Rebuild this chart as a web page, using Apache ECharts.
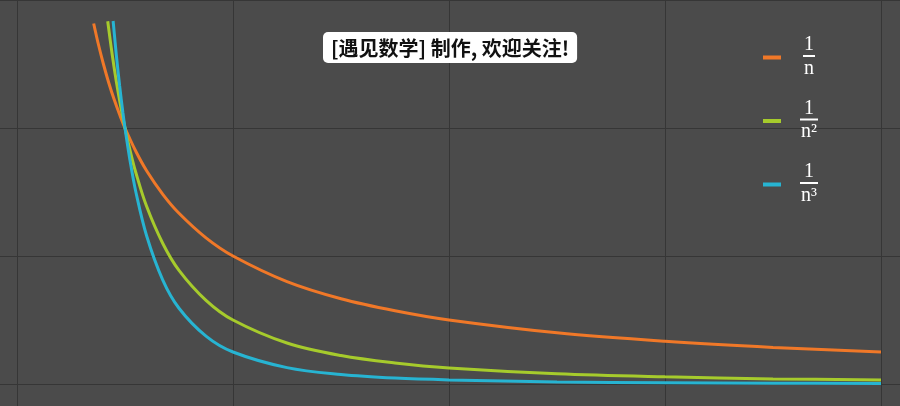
<!DOCTYPE html>
<html>
<head>
<meta charset="utf-8">
<script src="https://cdn.jsdelivr.net/npm/echarts@6/dist/echarts.min.js"></script>
<style>
  html, body { margin: 0; padding: 0; background: #4b4b4b; }
  #main { width: 900px; height: 406px; }
</style>
</head>
<body>
<div id="main"></div>
<script>
// values
var n1 = [0.71, 0.75, 0.8, 0.85, 0.9, 0.95, 1, 1.1, 1.2, 1.35, 1.5, 1.75, 2, 2.5, 3, 3.5, 4, 5, 6, 7, 8];
var inv1 = [1.408, 1.333, 1.25, 1.176, 1.111, 1.053, 1, 0.909, 0.833, 0.741, 0.667, 0.571, 0.5, 0.4, 0.333, 0.286, 0.25, 0.2, 0.167, 0.143, 0.125];

var n2 = [0.84, 0.88, 0.92, 0.96, 1, 1.05, 1.1, 1.2, 1.35, 1.5, 1.75, 2, 2.5, 3, 3.5, 4, 5, 6, 7, 8];
var inv2 = [1.417, 1.291, 1.181, 1.085, 1, 0.907, 0.826, 0.694, 0.549, 0.444, 0.327, 0.25, 0.16, 0.111, 0.082, 0.0625, 0.04, 0.028, 0.02, 0.016];

var n3 = [0.89, 0.92, 0.95, 0.98, 1, 1.05, 1.1, 1.2, 1.35, 1.5, 1.75, 2, 2.5, 3, 3.5, 4, 5, 6, 7, 8];
var inv3 = [1.418, 1.284, 1.166, 1.062, 1, 0.864, 0.751, 0.579, 0.406, 0.296, 0.187, 0.125, 0.064, 0.037, 0.023, 0.016, 0.008, 0.005, 0.003, 0.002];

var xTicks = [0, 2, 4, 6, 8];
var yTicks = [0, 0.5, 1, 1.5];
var names = ['1/n', '1/n²', '1/n³'];

function pairs(xs, ys) {
  return xs.map(function (x, i) { return [x, ys[i]]; });
}

var myChart = echarts.init(document.getElementById('main'));

var fracLabels = {
  '1/n': '{num|1}\n{bar|}\n{den|n}',
  '1/n²': '{num|1}\n{bar2|}\n{den|n²}',
  '1/n³': '{num|1}\n{bar2|}\n{den|n³}'
};

myChart.setOption({
  backgroundColor: '#4b4b4b',
  color: ['#f07828', '#a6cb2c', '#27b4d2'],
  title: {
    text: '[遇见数学] 制作, 欢迎关注!',
    left: 323,
    top: 32,
    backgroundColor: '#ffffff',
    borderRadius: 5,
    padding: [6, 8, 5, 8],
    textStyle: {
      color: '#111',
      fontSize: 20,
      fontWeight: 'bold',
      fontFamily: 'Noto Sans CJK SC'
    }
  },
  legend: {
    orient: 'vertical',
    left: 758,
    top: 30,
    itemWidth: 18,
    itemHeight: 4,
    itemGap: 20,
    icon: 'rect',
    data: names,
    formatter: function (name) { return fracLabels[name]; },
    textStyle: {
      color: '#fff',
      fontFamily: 'Liberation Serif',
      padding: [0, 0, 0, 10],
      rich: {
        num: { fontSize: 20, color: '#fff', fontFamily: 'Liberation Serif', align: 'center', width: 26, lineHeight: 19 },
        den: { fontSize: 20, color: '#fff', fontFamily: 'Liberation Serif', align: 'center', width: 26, lineHeight: 22 },
        bar: { width: 12, height: 2, lineHeight: 3, backgroundColor: '#fff', align: 'center' },
        bar2: { width: 18, height: 2, lineHeight: 3, backgroundColor: '#fff', align: 'center' }
      }
    }
  },
  grid: { left: 0, right: 0, top: 0, bottom: 0 },
  xAxis: {
    type: 'value',
    min: -17 / 108,
    max: 883 / 108,
    axisLine: { show: false },
    axisLabel: { show: false },
    axisTick: { show: false, customValues: xTicks },
    splitLine: { show: true, lineStyle: { color: '#363636', width: 1 } }
  },
  yAxis: {
    type: 'value',
    min: -22 / 256,
    max: 1.5,
    axisLine: { show: false },
    axisLabel: { show: false },
    axisTick: { show: false, customValues: yTicks },
    splitLine: { show: true, lineStyle: { color: '#363636', width: 1 } }
  },
  series: [
    { name: names[0], type: 'line', data: pairs(n1, inv1), smooth: 0.35, showSymbol: false, lineStyle: { width: 3 } },
    { name: names[1], type: 'line', data: pairs(n2, inv2), smooth: 0.35, showSymbol: false, lineStyle: { width: 3 } },
    { name: names[2], type: 'line', data: pairs(n3, inv3), smooth: 0.35, showSymbol: false, lineStyle: { width: 3 } }
  ]
});
</script>
</body>
</html>
